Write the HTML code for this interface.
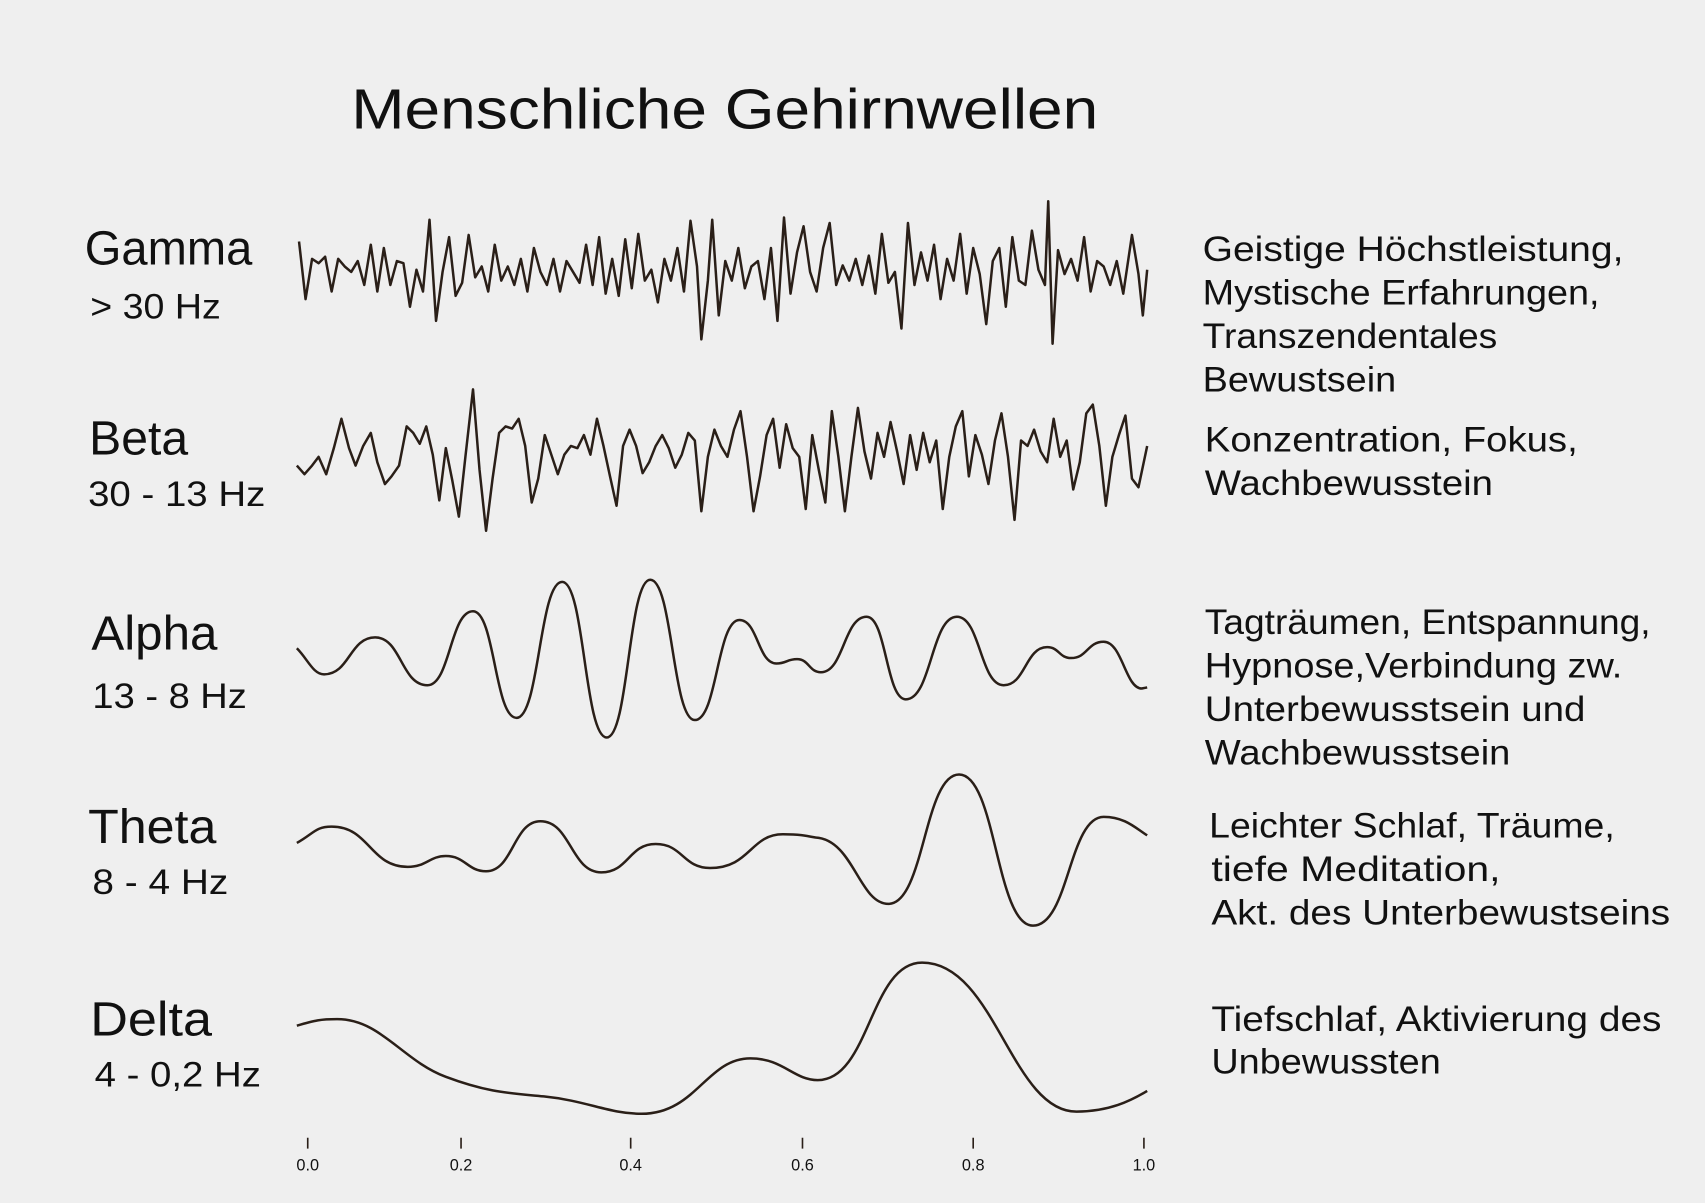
<!DOCTYPE html>
<html><head><meta charset="utf-8"><style>
html,body{margin:0;padding:0;background:#efefef;}
svg{display:block;}
text{font-family:"Liberation Sans",sans-serif;fill:#111;}
</style></head><body>
<svg width="1705" height="1203" viewBox="0 0 1568 1106" preserveAspectRatio="none">
<rect width="1568" height="1106" fill="#efefef"/>
<text x="323" y="118" font-size="52" textLength="687" lengthAdjust="spacingAndGlyphs">Menschliche Gehirnwellen</text>
<g font-size="44">
<text x="78" y="243" textLength="154" lengthAdjust="spacingAndGlyphs">Gamma</text>
<text x="82" y="418" textLength="91" lengthAdjust="spacingAndGlyphs">Beta</text>
<text x="84" y="597" textLength="116" lengthAdjust="spacingAndGlyphs">Alpha</text>
<text x="81" y="775" textLength="118" lengthAdjust="spacingAndGlyphs">Theta</text>
<text x="83" y="952" textLength="112" lengthAdjust="spacingAndGlyphs">Delta</text>
</g>
<g font-size="32">
<text x="83" y="293" textLength="120" lengthAdjust="spacingAndGlyphs">&gt; 30 Hz</text>
<text x="81" y="465" textLength="163" lengthAdjust="spacingAndGlyphs">30 - 13 Hz</text>
<text x="85" y="651" textLength="142" lengthAdjust="spacingAndGlyphs">13 - 8 Hz</text>
<text x="85" y="822" textLength="125" lengthAdjust="spacingAndGlyphs">8 - 4 Hz</text>
<text x="87" y="999" textLength="153" lengthAdjust="spacingAndGlyphs">4 - 0,2 Hz</text>
</g>
<g font-size="32">
<text x="1106" y="240" textLength="387" lengthAdjust="spacingAndGlyphs">Geistige Höchstleistung,</text>
<text x="1106" y="280" textLength="365" lengthAdjust="spacingAndGlyphs">Mystische Erfahrungen,</text>
<text x="1106" y="320" textLength="271" lengthAdjust="spacingAndGlyphs">Transzendentales</text>
<text x="1106" y="360" textLength="178" lengthAdjust="spacingAndGlyphs">Bewustsein</text>
<text x="1108" y="415" textLength="343" lengthAdjust="spacingAndGlyphs">Konzentration, Fokus,</text>
<text x="1108" y="455" textLength="265" lengthAdjust="spacingAndGlyphs">Wachbewusstein</text>
<text x="1108" y="583" textLength="410" lengthAdjust="spacingAndGlyphs">Tagträumen, Entspannung,</text>
<text x="1108" y="623" textLength="384" lengthAdjust="spacingAndGlyphs">Hypnose,Verbindung zw.</text>
<text x="1108" y="663" textLength="350" lengthAdjust="spacingAndGlyphs">Unterbewusstsein und</text>
<text x="1108" y="703" textLength="281" lengthAdjust="spacingAndGlyphs">Wachbewusstsein</text>
<text x="1112" y="770" textLength="373" lengthAdjust="spacingAndGlyphs">Leichter Schlaf, Träume,</text>
<text x="1114" y="810" textLength="266" lengthAdjust="spacingAndGlyphs">tiefe Meditation,</text>
<text x="1114" y="850" textLength="422" lengthAdjust="spacingAndGlyphs">Akt. des Unterbewustseins</text>
<text x="1114" y="948" textLength="414" lengthAdjust="spacingAndGlyphs">Tiefschlaf, Aktivierung des</text>
<text x="1114" y="987" textLength="211" lengthAdjust="spacingAndGlyphs">Unbewussten</text>
</g>
<g fill="none" stroke="#2a1f18" stroke-width="2.3" stroke-linejoin="round">
<polyline points="275,222 281,275 287,238 293,242 299,236 305,268 311,238 317,245 323,250 329,240 335,262 341,225 347,268 353,228 359,262 365,240 371,242 377,282 383,248 389,268 395,202 401,295 407,250 413,218 419,272 425,260 431,216 437,255 443,245 449,268 455,225 461,258 467,245 473,262 479,238 485,268 491,228 497,250 503,262 509,238 515,268 521,240 527,250 533,260 539,225 545,262 551,218 557,270 563,238 569,272 575,220 581,265 587,215 593,258 599,248 605,278 611,238 617,258 623,228 629,268 635,203 641,245 645,312 651,258 655,202 661,290 667,240 673,258 679,228 685,265 691,245 697,240 703,275 709,228 715,295 721,200 727,270 733,232 739,208 745,250 751,268 757,228 763,205 769,262 775,244 781,258 787,238 793,262 799,235 805,270 811,215 817,260 823,250 829,302 835,205 841,262 847,232 853,258 859,225 865,275 871,238 877,258 883,215 889,270 895,228 901,252 907,298 913,240 919,228 925,282 931,218 937,258 943,262 949,212 955,248 961,262 964,185 968,316 973,230 979,252 985,238 991,258 997,218 1003,268 1009,240 1015,245 1021,262 1027,240 1033,270 1041,216 1047,252 1051,290 1055,248"/>
<polyline points="273,428 280,436 287,428 293,420 300,436 307,412 314,385 321,412 327,428 334,410 341,398 347,425 354,445 360,438 367,428 374,392 380,398 386,408 392,392 398,418 404,460 410,412 416,442 422,475 428,420 435,358 441,432 447,488 453,440 459,398 465,392 471,394 477,385 483,410 489,462 495,440 501,400 507,418 513,436 519,418 525,410 531,412 537,400 543,418 549,385 555,410 561,438 567,465 573,410 579,395 585,410 591,435 597,425 603,410 609,400 615,412 621,430 627,418 633,398 639,405 645,470 651,420 657,395 663,410 669,420 675,395 681,378 687,420 693,470 699,438 705,400 711,385 717,430 723,390 729,412 735,420 741,468 747,400 753,432 759,462 765,378 771,420 777,470 783,420 789,375 795,415 801,440 807,398 813,420 819,388 825,415 831,445 837,400 843,432 849,398 855,425 861,405 867,468 873,420 879,392 885,378 891,438 897,400 903,418 909,445 915,405 921,380 927,420 933,478 939,405 945,410 951,395 957,415 963,425 969,385 975,420 981,405 987,450 993,425 999,380 1005,372 1011,410 1017,465 1023,420 1029,400 1035,382 1041,440 1047,448 1055,410"/>
<path d="M273,596 C283,606 288,620 298,620 C321.5,620 321.5,586 345,586 C369,586 369,630 393,630 C414,630 414,562 435,562 C455,562 455,660 475,660 C496,660 496,535 517,535 C537.5,535 537.5,678 558,678 C578,678 578,533 598,533 C618.5,533 618.5,662 639,662 C659.5,662 659.5,570 680,570 C697,570 697,610 714,610 C723.5,610 723.5,606 733,606 C744,606 744,618 755,618 C776,618 776,567 797,567 C815,567 815,643 833,643 C856.5,643 856.5,567 880,567 C901.5,567 901.5,630 923,630 C943,630 943,595 963,595 C974,595 974,605 985,605 C1000,605 1000,590 1015,590 C1032,590 1035,633 1050,633 L1055,632"/>
<path d="M273,775 C289,766 290,760 305,760 C340,760 340,797 375,797 C392,797 395,787 410,787 C428,787 430,801 447,801 C472,801 472,755 497,755 C525,755 525,802 553,802 C578,802 578,776 603,776 C628,776 628,798 653,798 C690,798 690,767 720,767 C735,767 740,768 750,770 C785,772 790,831 817,831 C850,831 850,712 882,712 C916,712 916,851 950,851 C983,851 983,751 1015,751 C1035,751 1045,762 1055,768"/>
<path d="M273,943 C290,938 295,937 310,937 C350,937 370,975 410,990 C450,1005 470,1005 500,1008 C540,1012 560,1024 590,1024 C640,1024 650,973 690,973 C720,973 730,993 752,993 C800,993 800,885 848,885 C915,885 930,1022 990,1022 C1020,1022 1040,1012 1055,1003"/>
</g>
<g stroke="#2a1f18" stroke-width="1.5">
<line x1="283" y1="1046" x2="283" y2="1056"/><line x1="424" y1="1046" x2="424" y2="1056"/><line x1="580" y1="1046" x2="580" y2="1056"/><line x1="738" y1="1046" x2="738" y2="1056"/><line x1="895" y1="1046" x2="895" y2="1056"/><line x1="1052" y1="1046" x2="1052" y2="1056"/>
</g>
<g font-size="15" text-anchor="middle" fill="#2a1f18">
<text x="283" y="1076">0.0</text><text x="424" y="1076">0.2</text><text x="580" y="1076">0.4</text><text x="738" y="1076">0.6</text><text x="895" y="1076">0.8</text><text x="1052" y="1076">1.0</text>
</g>
</svg>
</body></html>
